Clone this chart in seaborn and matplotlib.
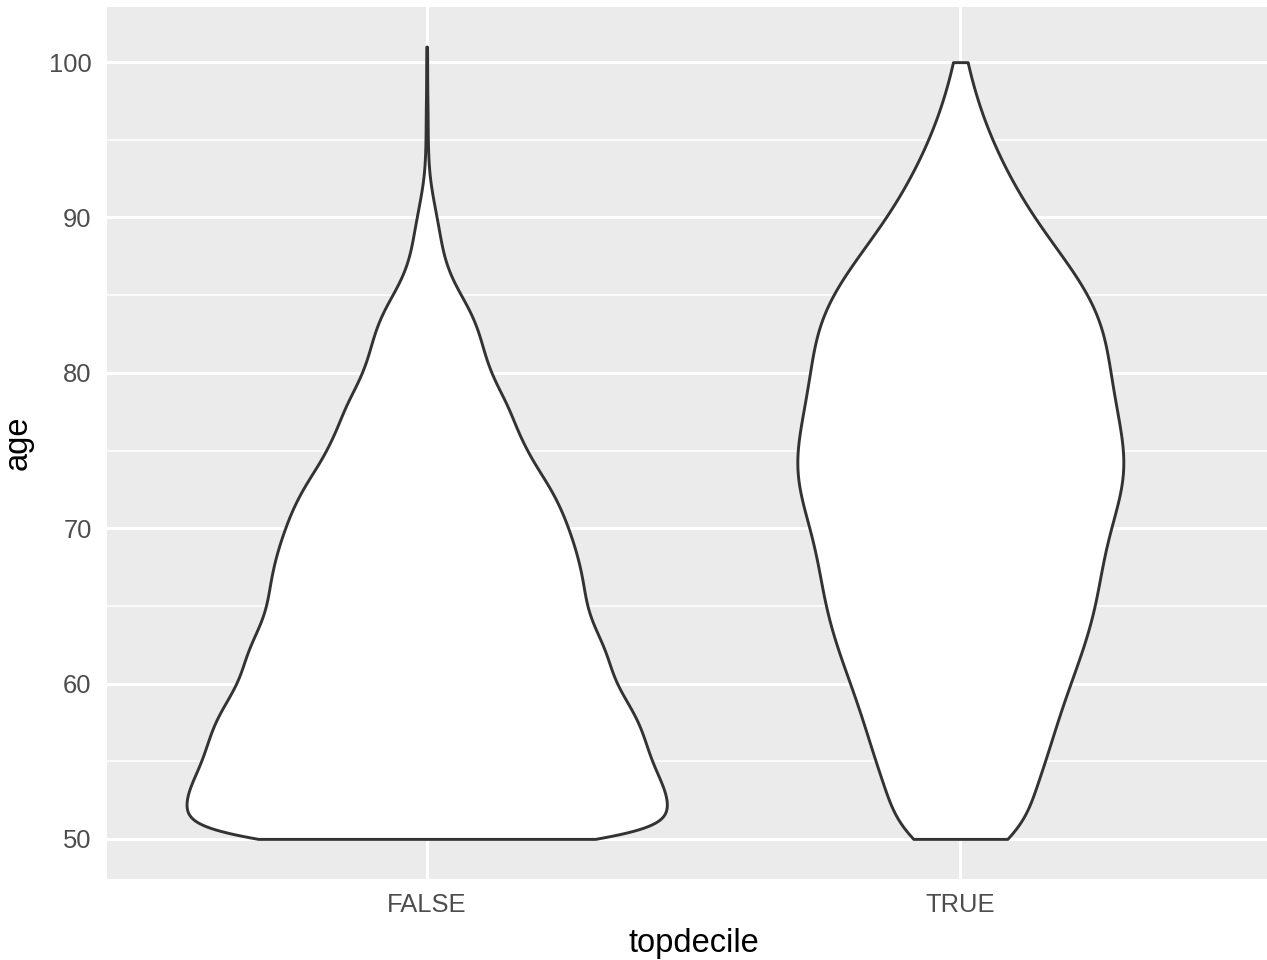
import numpy as np
import pandas as pd
import matplotlib
matplotlib.use("Agg")
import matplotlib.pyplot as plt
from matplotlib.ticker import FixedLocator
import seaborn as sns

# ---- data ----
categories = ["FALSE", "TRUE"]
false_ages = list(range(50, 102))
false_counts = [2400, 2400, 2420, 2400, 2310, 2240, 2190, 2150, 2080, 1980,
                1880, 1830, 1800, 1720, 1640, 1590, 1570, 1550, 1510, 1470,
                1410, 1360, 1280, 1200, 1080, 1000, 920, 860, 810, 710,
                640, 580, 550, 500, 440, 340, 250, 190, 150, 130,
                100, 70, 40, 20, 15, 10, 10, 10, 5, 5,
                5, 5]
true_ages = list(range(50, 101))
true_counts = [100, 60, 65, 74, 81, 85, 90, 94, 99, 104,
               110, 116, 122, 127, 132, 136, 138, 140, 143, 145,
               150, 155, 161, 165, 168, 165, 161, 159, 155, 152,
               150, 148, 147, 144, 138, 130, 120, 109, 96, 84,
               73, 63, 54, 46, 38, 31, 25, 19, 14, 10,
               9]
y_ticks = [50, 60, 70, 80, 90, 100]
y_minor = [55, 65, 75, 85, 95]

df = pd.DataFrame({
    "topdecile": np.concatenate([
        np.repeat(categories[0], sum(false_counts)),
        np.repeat(categories[1], sum(true_counts))]),
    "age": np.concatenate([
        np.repeat(false_ages, false_counts),
        np.repeat(true_ages, true_counts)]).astype(float),
})

sns.set_theme(style="darkgrid", rc={
    "axes.facecolor": "#EBEBEB",
    "grid.color": "white",
    "axes.edgecolor": "#EBEBEB",
})
plt.rcParams["font.family"] = ["Liberation Sans", "DejaVu Sans"]

W, H = 1267, 960
fig = plt.figure(figsize=(W / 100, H / 100), dpi=100)
ax = fig.add_axes([106.5 / W, (H - 878.5) / H, (1280.5 - 106.5) / W, (878.5 - 7) / H])

# Scott's rule per group (bandwidth shrinks with group size), adjusted so the
# larger group gets a bandwidth of about one year
false_vals = df.loc[df.topdecile == "FALSE", "age"]
adj = 1.0 / (np.std(false_vals, ddof=1) * len(false_vals) ** -0.2)

sns.violinplot(data=df, x="topdecile", y="age", order=categories,
               cut=0, inner=None, width=0.9, density_norm="area",
               bw_method="scott", bw_adjust=adj, gridsize=500,
               color="white", saturation=1,
               linecolor="#333333", linewidth=2.1, ax=ax)

ax.set_xlim(-0.6, 1.6)
ax.set_ylim(47.45, 103.55)
ax.set_yticks(y_ticks)
ax.yaxis.set_minor_locator(FixedLocator(y_minor))
ax.grid(True, which="major", axis="both", color="white", linewidth=2.2)
ax.grid(True, which="minor", axis="y", color="white", linewidth=1.1)
ax.set_axisbelow(True)
for s in ax.spines.values():
    s.set_visible(False)

ax.tick_params(axis="both", which="major", length=5.2, width=2.0,
               color="#333333", labelcolor="#4D4D4D", labelsize=18.4)
ax.tick_params(axis="y", which="major", pad=5.5)
ax.tick_params(axis="x", which="major", pad=5)
ax.tick_params(axis="y", which="minor", length=0)

ax.set_xlabel("topdecile", fontsize=23.5, color="black", labelpad=8)
ax.set_ylabel("age", fontsize=23.5, color="black", labelpad=10.8)

fig.savefig("out.png", dpi=100)
